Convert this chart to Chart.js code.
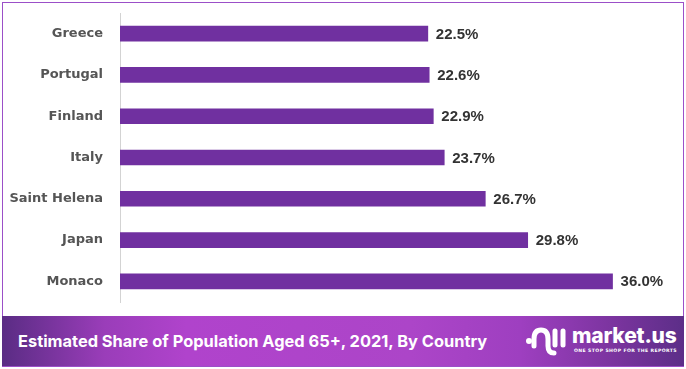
<!DOCTYPE html>
<html>
<head>
<meta charset="utf-8">
<script src="https://cdn.jsdelivr.net/npm/chart.js@4"></script>
<style>
  html, body { margin: 0; padding: 0; background: #fff; }
  #wrap { position: relative; width: 686px; height: 369px; overflow: hidden; }
  #frame { position: absolute; left: 2px; top: 2px; width: 680px; height: 363px; border: 1px solid #9b4fc8; box-sizing: content-box; }
  #chartBox { position: absolute; left: 0; top: 0; width: 686px; height: 316px; }
  #banner {
    position: absolute; left: 2px; top: 316px; width: 682px; height: 50px;
    background: linear-gradient(90deg, #5a2c84 0%, #9a3db9 15%, #b043cc 27%, #ac45c8 60%, #9e3fc0 76%, #7a349e 90%, #5c2e88 100%);
  }
  #title {
    position: absolute; left: 16px; top: 0; height: 50px; line-height: 50px;
    font-family: Inter, "Noto Sans", sans-serif; font-weight: 700; font-size: 16.4px; color: #fff;
    white-space: nowrap;
  }
  #logo { position: absolute; left: 522px; top: 9px; }
  #brand {
    position: absolute; left: 570px; top: 8px;
    font-family: Inter, "Noto Sans", sans-serif; font-weight: 800; font-size: 21px; color: #fff; line-height: 23px;
    letter-spacing: -0.2px; white-space: nowrap;
  }
  #tag {
    position: absolute; left: 572px; top: 32px;
    font-family: "DejaVu Sans", sans-serif; font-weight: 700; font-size: 4.6px; color: #fff; letter-spacing: 0.4px; white-space: nowrap;
  }
</style>
</head>
<body>
<div id="wrap">
  <div id="chartBox"><canvas id="chart"></canvas></div>
  <div id="frame"></div>
  <div id="banner">
    <div id="title">Estimated Share of Population Aged 65+, 2021, By Country</div>
    <svg id="logo" width="44" height="32" viewBox="0 0 44 32">
      <circle cx="5" cy="16" r="3" fill="#fff"/>
      <path d="M10 21 L10 14 Q10 5 17 5 Q24 5 24 14 L24 21 Q24 28 30 28" stroke="#fff" stroke-width="5" fill="none" stroke-linecap="round"/>
      <line x1="31" y1="6" x2="31" y2="20" stroke="#fff" stroke-width="5" stroke-linecap="round"/>
      <line x1="39" y1="6" x2="39" y2="20" stroke="#fff" stroke-width="5" stroke-linecap="round"/>
    </svg>
    <div id="brand">market.us</div>
    <div id="tag">ONE STOP SHOP FOR THE REPORTS</div>
  </div>
</div>
<script>
const countries = ['Greece', 'Portugal', 'Finland', 'Italy', 'Saint Helena', 'Japan', 'Monaco'];
const shares = [22.5, 22.6, 22.9, 23.7, 26.7, 29.8, 36.0];

// etiquetas de valor no fim de cada barra
const valueLabels = {
    id: 'valueLabels',
    afterDatasetsDraw(chart) {
        const { ctx } = chart;
        const meta = chart.getDatasetMeta(0);
        ctx.save();
        ctx.font = 'bold 15px "Liberation Sans", Arial, sans-serif';
        ctx.fillStyle = '#333333';
        ctx.textAlign = 'left';
        ctx.textBaseline = 'middle';
        meta.data.forEach((bar, i) => {
            ctx.fillText(shares[i].toFixed(1) + '%', bar.x + 8, bar.y + 1);
        });
        ctx.restore();
    }
};

new Chart(document.getElementById('chart'), {
    type: 'bar',
    data: {
        labels: countries,
        datasets: [{
            data: shares,
            backgroundColor: '#7030a0',
            barThickness: 15
        }]
    },
    options: {
        indexAxis: 'y',
        responsive: true,
        maintainAspectRatio: false,
        animation: false,
        layout: { padding: { top: 13, bottom: 14, left: 0, right: 16 } },
        plugins: { legend: { display: false }, tooltip: { enabled: false } },
        scales: {
            x: { display: false, min: 0, max: 40.2 },
            y: {
                afterFit(scale) {
                    scale.width = 120;
                    scale.paddingTop = 0;
                    scale.paddingBottom = 0;
                },
                grid: { display: false, drawTicks: false },
                border: { display: true, color: '#d3d3d3', width: 1 },
                ticks: {
                    padding: 17,
                    color: '#555555',
                    font: { family: 'DejaVu Sans', weight: 'bold', size: 13 }
                }
            }
        }
    },
    plugins: [valueLabels]
});
</script>
</body>
</html>
